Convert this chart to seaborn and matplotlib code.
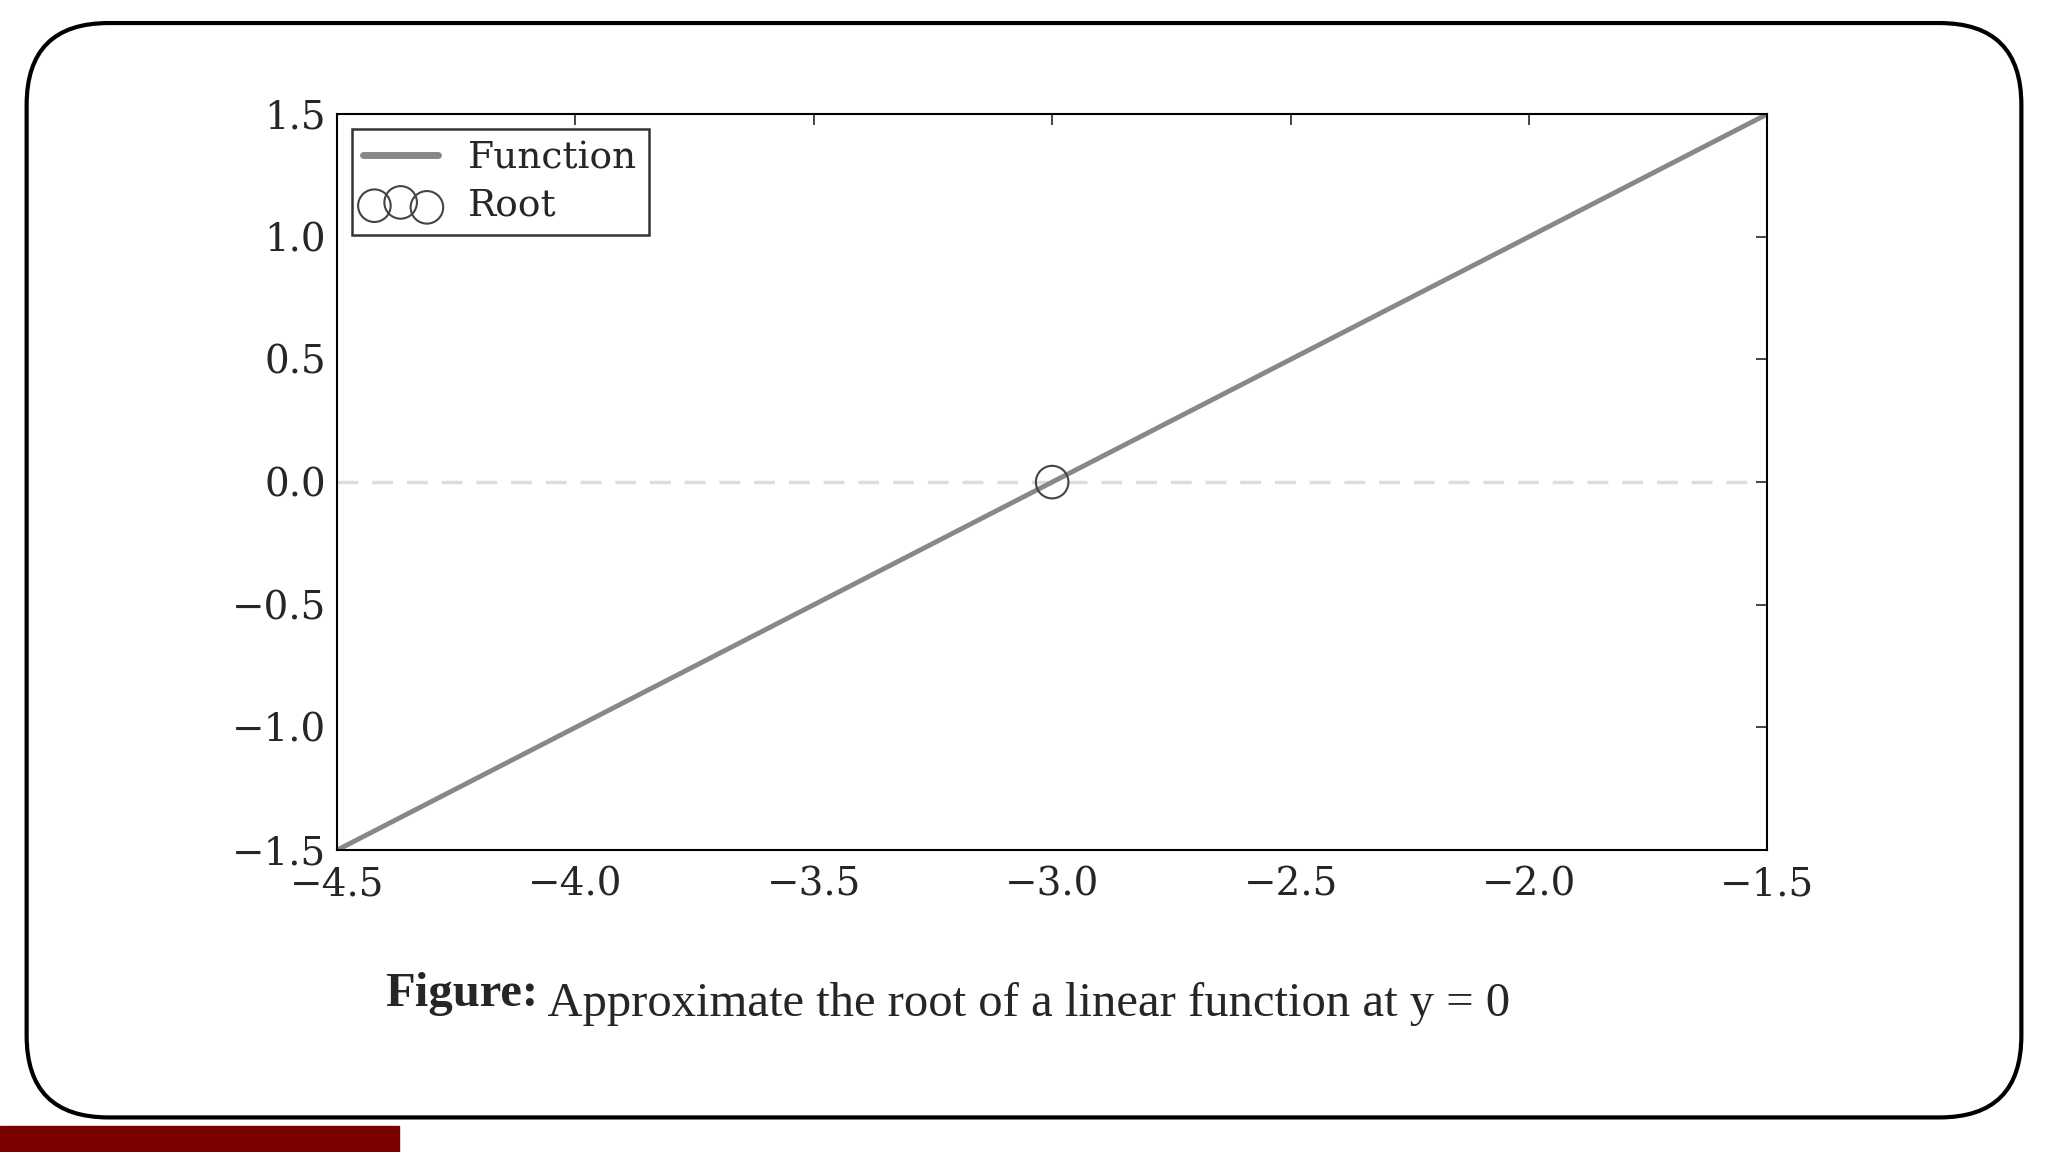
import matplotlib
matplotlib.use("Agg")
import matplotlib.pyplot as plt
import seaborn as sns
import pandas as pd
from matplotlib.patches import FancyBboxPatch, Rectangle

func_x = [-4.5, -1.5]
func_y = [-1.5, 1.5]
root_x = [-3.0]
root_y = [0.0]
xticks = [-4.5, -4.0, -3.5, -3.0, -2.5, -2.0, -1.5]
yticks = [-1.5, -1.0, -0.5, 0.0, 0.5, 1.0, 1.5]
caption_bold = "Figure:"
caption_rest = " Approximate the root of a linear function at y = 0"

sns.set_style("white")
plt.rcParams["font.family"] = "DejaVu Serif"
fig = plt.figure(figsize=(20.48, 11.52), dpi=100)

border = FancyBboxPatch((0.013, 0.03), 0.974, 0.95, boxstyle="round,pad=0,rounding_size=0.04",
                        transform=fig.transFigure, fill=False, lw=3, ec="black",
                        mutation_aspect=2048/1152)
fig.patches.append(border)
fig.patches.append(Rectangle((0, 0), 0.195, 0.023, transform=fig.transFigure,
                             color="#7a0000"))

ax = fig.add_axes([0.1645, 0.262, 0.6985, 0.639])
ax.axhline(0, color="#dddddd", ls="--", lw=2.5, dashes=(6, 4), xmax=0.99)
sns.lineplot(x=func_x, y=func_y, ax=ax, color="#888888", lw=3.5, label="Function")
ax.scatter(root_x, root_y, s=550, facecolors="none", edgecolors="#444444", lw=1.5,
           label="Root", zorder=5)
ax.set_xlim(-4.5, -1.5)
ax.set_ylim(-1.5, 1.5)
ax.set_xticks(xticks)
ax.set_yticks(yticks)
ax.set_xticklabels([f"{v:.1f}".replace("-", "\u2212") for v in xticks])
ax.set_yticklabels([f"{v:.1f}".replace("-", "\u2212") for v in yticks])
ax.tick_params(direction="in", length=8, width=1.2, top=True, right=True,
               labelsize=28)
ax.tick_params(axis="x", pad=12)
ax.tick_params(axis="y", pad=8)
for s in ax.spines.values():
    s.set_linewidth(1.5)
    s.set_color("black")
leg = ax.legend(loc="upper left", scatterpoints=3, fontsize=27, frameon=True,
                fancybox=False, edgecolor="black", borderaxespad=0.4, handlelength=2,
                borderpad=0.3, labelspacing=0.3)
leg.get_frame().set_linewidth(1.8)
leg.get_lines()[0].set_linewidth(5)

t1 = fig.text(0.188, 0.127, caption_bold, fontsize=35, fontweight="bold",
              family="Liberation Serif", va="baseline")
fig.text(0, 0, caption_rest, fontsize=35, family="Liberation Serif", va="baseline",
         transform=matplotlib.transforms.offset_copy(fig.transFigure, fig=fig))
fig.texts[-1].remove()
ann = ax.annotate(caption_rest, xy=(1, 0), xycoords=t1, fontsize=35,
                  family="Liberation Serif", va="baseline", ha="left",
                  annotation_clip=False)
fig.savefig("out.png", dpi=100)
